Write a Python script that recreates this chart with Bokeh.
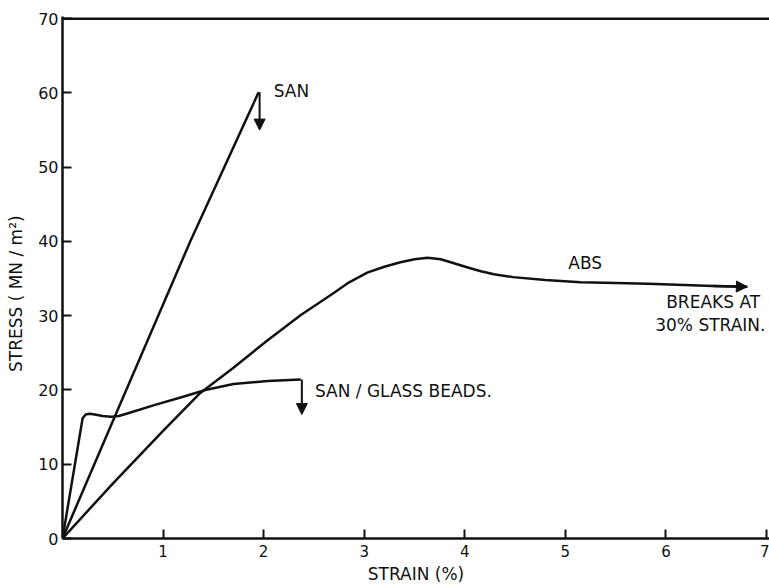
from bokeh.plotting import figure
from bokeh.models import Range1d, FixedTicker, Arrow, NormalHead, Label, Span
from bokeh.embed import file_html
from bokeh.resources import INLINE

# ---- data ----
san_strain = [0.0, 0.5, 1.27, 1.95]
san_stress = [0.0, 15.8, 40.0, 60.1]
san_break_to = 55.0

abs_strain = [0.0, 0.5, 1.0, 1.37, 1.70, 2.04, 2.37, 2.69, 2.85, 3.03, 3.20, 3.36, 3.50, 3.63,
              3.76, 3.86, 4.03, 4.16, 4.29, 4.48, 4.80, 5.15, 5.50, 5.82, 6.47, 6.81]
abs_stress = [0.0, 7.4, 14.5, 19.6, 23.0, 26.7, 30.1, 33.0, 34.5, 35.8, 36.6, 37.2, 37.6, 37.8,
              37.6, 37.2, 36.5, 36.0, 35.6, 35.2, 34.8, 34.5, 34.4, 34.3, 34.0, 33.9]

gb_strain = [0.0, 0.2, 0.23, 0.27, 0.32, 0.40, 0.48, 0.56, 0.66, 0.92, 1.2, 1.42, 1.70, 2.04, 2.37]
gb_stress = [0.0, 16.2, 16.7, 16.8, 16.7, 16.5, 16.4, 16.5, 16.9, 18.0, 19.1, 20.0, 20.8, 21.2, 21.4]
gb_break_to = 16.7

x_ticks = [1, 2, 3, 4, 5, 6, 7]
y_ticks = [0, 10, 20, 30, 40, 50, 60, 70]

FONT = "DejaVu Sans"
INK = "#111111"

p = figure(width=769, height=586, output_backend="svg", toolbar_location=None,
           x_range=Range1d(0, 7.03), y_range=Range1d(0, 70.3),
           min_border_left=62, min_border_right=0, min_border_top=16,
           min_border_bottom=47)
p.background_fill_color = "white"
p.border_fill_color = "white"
p.outline_line_color = None
p.grid.visible = False

for ax in (p.xaxis[0], p.yaxis[0]):
    ax.axis_line_width = 2.5
    ax.axis_line_color = INK
    ax.major_tick_in = 9
    ax.major_tick_out = 0
    ax.major_tick_line_width = 2
    ax.major_tick_line_color = INK
    ax.minor_tick_line_color = None
    ax.major_label_text_font = FONT
    ax.major_label_text_color = INK
    ax.axis_label_text_font = FONT
    ax.axis_label_text_font_size = "17px"
    ax.axis_label_text_font_style = "normal"
    ax.axis_label_text_color = INK

p.xaxis.major_label_text_font_size = "15px"
p.yaxis.major_label_text_font_size = "16px"
p.xaxis.ticker = FixedTicker(ticks=x_ticks)
p.yaxis.ticker = FixedTicker(ticks=y_ticks)
p.xaxis.major_label_standoff = 6
p.yaxis.major_label_standoff = 4
p.xaxis.axis_label = "STRAIN (%)"
p.xaxis.axis_label_standoff = 4
p.yaxis.axis_label = "STRESS  ( MN / m²)" + "\u00a0" * 5
p.yaxis.axis_label_standoff = 9

# top frame line
p.add_layout(Span(location=70, dimension="width", line_color=INK, line_width=2.5))

lw = 2.5
p.line(san_strain, san_stress, line_color=INK, line_width=lw)
p.line(abs_strain, abs_stress, line_color=INK, line_width=lw, line_join="round")
p.line(gb_strain, gb_stress, line_color=INK, line_width=lw, line_join="round")

def head():
    return NormalHead(size=11, fill_color=INK, line_color=INK, line_width=1)

p.add_layout(Arrow(end=head(), x_start=san_strain[-1] + 0.01, y_start=san_stress[-1],
                   x_end=san_strain[-1] + 0.01, y_end=san_break_to,
                   line_color=INK, line_width=2))
p.add_layout(Arrow(end=head(), x_start=gb_strain[-1] + 0.01, y_start=gb_stress[-1],
                   x_end=gb_strain[-1] + 0.01, y_end=gb_break_to,
                   line_color=INK, line_width=2))
p.add_layout(Arrow(end=head(), x_start=abs_strain[-2], y_start=abs_stress[-2],
                   x_end=abs_strain[-1], y_end=abs_stress[-1],
                   line_color=INK, line_width=lw))

def lab(x, y, t, align="left"):
    p.add_layout(Label(x=x, y=y, text=t, text_font=FONT, text_font_size="17px",
                       text_color=INK, text_align=align, text_baseline="middle"))

lab(2.10, 60.2, "SAN")
lab(5.03, 37.1, "ABS")
lab(2.51, 19.8, "SAN / GLASS  BEADS.")
lab(6.99, 31.9, "BREAKS  AT", "right")
lab(6.99, 28.8, "30% STRAIN.", "right")

open("out.html", "w").write(file_html(p, INLINE))
